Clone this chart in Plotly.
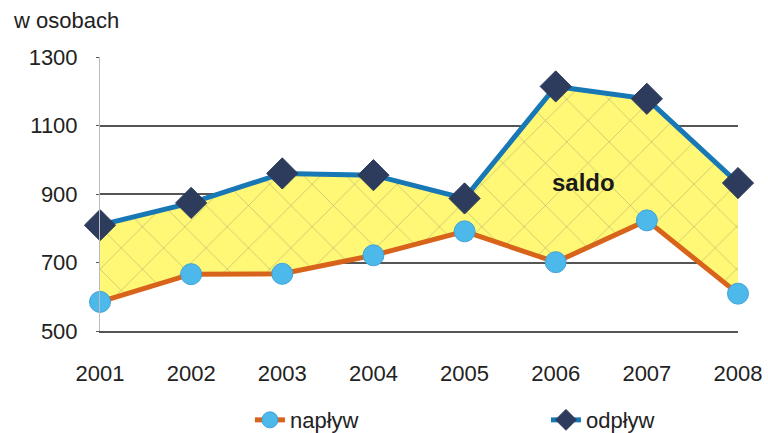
import plotly.graph_objects as go

years = ["2001", "2002", "2003", "2004", "2005", "2006", "2007", "2008"]
naplyw = [585, 666, 667, 721, 791, 701, 823, 609]
odplyw = [809, 874, 960, 955, 887, 1214, 1178, 932]
y_ticks = [500, 700, 900, 1100, 1300]

FONT = "Liberation Sans, Arial, sans-serif"
x_num = list(range(len(years)))

fig = go.Figure()
# fill band (saldo)
fig.add_trace(go.Scatter(x=x_num, y=naplyw, mode="lines", line=dict(width=0),
                         showlegend=False, hoverinfo="skip"))
fig.add_trace(go.Scatter(x=x_num, y=odplyw, mode="lines", line=dict(width=0),
                         fill="tonexty", fillcolor="#FFF876",
                         fillpattern=dict(shape="x", fgcolor="#666666", bgcolor="#FFF876",
                                          size=30, solidity=0.03, fgopacity=0.65),
                         showlegend=False, hoverinfo="skip"))
fig.add_trace(go.Scatter(x=x_num, y=naplyw, mode="lines+markers", name="napływ",
                         line=dict(color="#D8631A", width=5), cliponaxis=False,
                         marker=dict(symbol="circle", size=21, color="#4DB8EA",
                                     line=dict(color="#3FA3D6", width=1)),
                         legend="legend"))
fig.add_trace(go.Scatter(x=x_num, y=odplyw, mode="lines+markers", name="odpływ",
                         line=dict(color="#1878B6", width=5), cliponaxis=False,
                         marker=dict(symbol="diamond", size=24, color="#2D3C5C",
                                     line=dict(color="#2D3C5C", width=1)),
                         legend="legend2"))

fig.add_annotation(x=5.31, y=934, text="<b>saldo</b>", showarrow=False,
                   font=dict(family=FONT, size=24, color="#1a1a1a"))
fig.add_annotation(xref="paper", yref="paper", x=-0.1395, y=1.135, text="w osobach",
                   showarrow=False, xanchor="left", yanchor="middle",
                   font=dict(family=FONT, size=22, color="#222222"))

legend_style = dict(orientation="h", xanchor="left", y=-0.325, yanchor="middle",
                    font=dict(family=FONT, size=22, color="#222222"),
                    bgcolor="rgba(0,0,0,0)")

fig.update_layout(
    width=768, height=433,
    margin=dict(l=100, r=30, t=57, b=102, autoexpand=False),
    paper_bgcolor="white", plot_bgcolor="white",
    font=dict(family=FONT, size=22, color="#222222"),
    showlegend=True,
    hovermode=False,
    legend=dict(x=0.235, **legend_style),
    legend2=dict(x=0.699, **legend_style),
    xaxis=dict(tickmode="array", tickvals=x_num, ticktext=years, range=[0, 7],
               showgrid=False, showline=True, linecolor="#555555", linewidth=1.5,
               ticks="", zeroline=False, ticklabelstandoff=22),
    yaxis=dict(range=[500, 1300], tickvals=y_ticks, showgrid=True,
               gridcolor="#555555", gridwidth=1.5, showline=True, linecolor="#BBBBBB",
               linewidth=1, ticks="outside", ticklen=3, tickcolor="#555555",
               zeroline=False, ticklabelstandoff=14),
)
fig.write_html("out.html", config={"displayModeBar": False},
               post_script="document.body.style.margin='0';document.body.style.overflow='hidden';")
